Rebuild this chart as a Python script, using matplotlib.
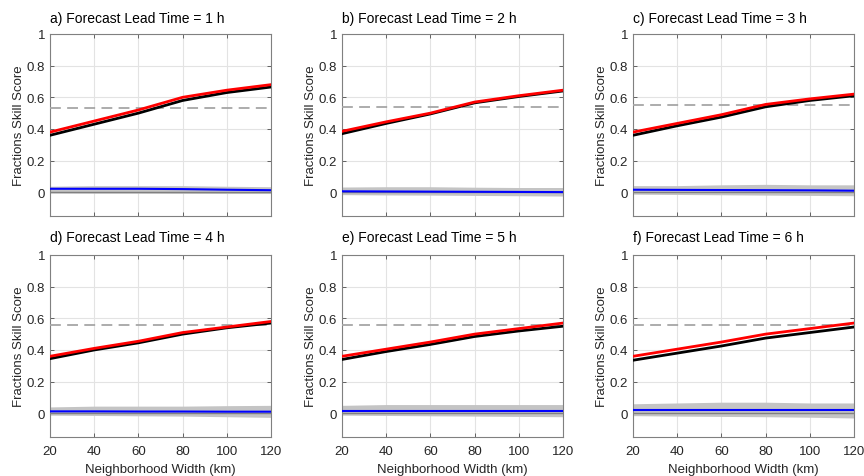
import matplotlib
matplotlib.use("Agg")
import matplotlib.pyplot as plt
import numpy as np

plt.rcParams['font.family'] = ['Liberation Sans', 'DejaVu Sans']

widths = [20, 40, 60, 80, 100, 120]
titles = ["a) Forecast Lead Time = 1 h", "b) Forecast Lead Time = 2 h",
          "c) Forecast Lead Time = 3 h", "d) Forecast Lead Time = 4 h",
          "e) Forecast Lead Time = 5 h", "f) Forecast Lead Time = 6 h"]

red_fss = [
    [0.38, 0.45, 0.52, 0.60, 0.645, 0.68],
    [0.385, 0.445, 0.50, 0.57, 0.61, 0.645],
    [0.38, 0.435, 0.49, 0.555, 0.59, 0.62],
    [0.36, 0.41, 0.455, 0.51, 0.545, 0.58],
    [0.36, 0.405, 0.45, 0.50, 0.535, 0.57],
    [0.36, 0.405, 0.45, 0.50, 0.535, 0.57],
]
black_fss = [
    [0.36, 0.43, 0.50, 0.58, 0.63, 0.665],
    [0.37, 0.435, 0.495, 0.565, 0.605, 0.64],
    [0.36, 0.42, 0.475, 0.54, 0.58, 0.61],
    [0.345, 0.40, 0.445, 0.50, 0.54, 0.57],
    [0.34, 0.39, 0.435, 0.485, 0.52, 0.55],
    [0.335, 0.38, 0.425, 0.475, 0.51, 0.545],
]
useful_fss = [0.53, 0.54, 0.55, 0.555, 0.56, 0.56]
blue_diff = [
    [0.022, 0.022, 0.022, 0.02, 0.016, 0.013],
    [0.006, 0.005, 0.004, 0.003, 0.002, 0.001],
    [0.016, 0.015, 0.014, 0.013, 0.012, 0.01],
    [0.012, 0.012, 0.011, 0.011, 0.01, 0.01],
    [0.016, 0.016, 0.016, 0.016, 0.016, 0.016],
    [0.02, 0.02, 0.02, 0.02, 0.02, 0.02],
]
band_low = [
    [-0.005, -0.006, -0.006, -0.007, -0.008, -0.008],
    [-0.015, -0.017, -0.018, -0.02, -0.022, -0.024],
    [-0.012, -0.014, -0.016, -0.018, -0.02, -0.022],
    [-0.012, -0.014, -0.016, -0.018, -0.022, -0.026],
    [-0.012, -0.014, -0.016, -0.018, -0.02, -0.022],
    [-0.015, -0.018, -0.02, -0.022, -0.025, -0.03],
]
band_high = [
    [0.038, 0.042, 0.042, 0.042, 0.038, 0.035],
    [0.033, 0.035, 0.035, 0.032, 0.03, 0.03],
    [0.042, 0.042, 0.047, 0.05, 0.047, 0.047],
    [0.04, 0.045, 0.045, 0.045, 0.048, 0.05],
    [0.05, 0.055, 0.055, 0.055, 0.055, 0.055],
    [0.06, 0.065, 0.07, 0.07, 0.065, 0.065],
]

fig = plt.figure(figsize=(8.64, 4.77), dpi=100)
W, H = 864, 477
lefts = [50, 342, 633]
aw = 221
tops = [35, 256]
ah = 182
axcol = '#4d4d4d'

for i in range(6):
    r, c = divmod(i, 3)
    ax = fig.add_axes([lefts[c] / W, 1 - (tops[r] + ah) / H, aw / W, ah / H])
    ax.fill_between(widths, band_low[i], band_high[i], color='#c4c4c4', lw=0, zorder=2)
    ax.plot([20, 120], [0, 0], color='#808080', lw=1.0, zorder=3)
    ax.plot(widths, blue_diff[i], color='#0000ff', lw=1.5, zorder=4)
    ax.plot([20, 120], [useful_fss[i]] * 2, color='#a6a6a6', lw=1.3, ls=(0, (6, 3.5)), zorder=3)
    ax.plot(widths, black_fss[i], color='black', lw=2.0, zorder=5)
    ax.plot(widths, red_fss[i], color='#ff0000', lw=2.0, zorder=6)
    ax.set_xlim(20, 120)
    ax.set_ylim(-0.15, 1)
    ax.set_xticks(widths)
    ax.set_yticks([0, 0.2, 0.4, 0.6, 0.8, 1])
    ax.set_yticklabels(['0', '0.2', '0.4', '0.6', '0.8', '1'])
    if r == 0:
        ax.set_xticklabels([])
    else:
        ax.set_xlabel('Neighborhood Width (km)', fontsize=9.5, color='#262626', labelpad=4)
    ax.set_ylabel('Fractions Skill Score', fontsize=9.5, color='#262626', labelpad=1)
    ax.grid(True, color='#e3e3e3', lw=0.8, zorder=0)
    ax.set_axisbelow(True)
    ax.tick_params(direction='in', length=3, width=0.6, colors=axcol, labelsize=9.5,
                   labelcolor='#262626', top=True, right=True)
    ax.tick_params(axis='x', pad=6)
    for s in ax.spines.values():
        s.set_color('#808080')
        s.set_linewidth(0.8)
    ax.set_title(titles[i], fontsize=10, loc='left', x=0.0, pad=9 if r == 0 else 10, color='black')

fig.savefig('out.png', dpi=100)
